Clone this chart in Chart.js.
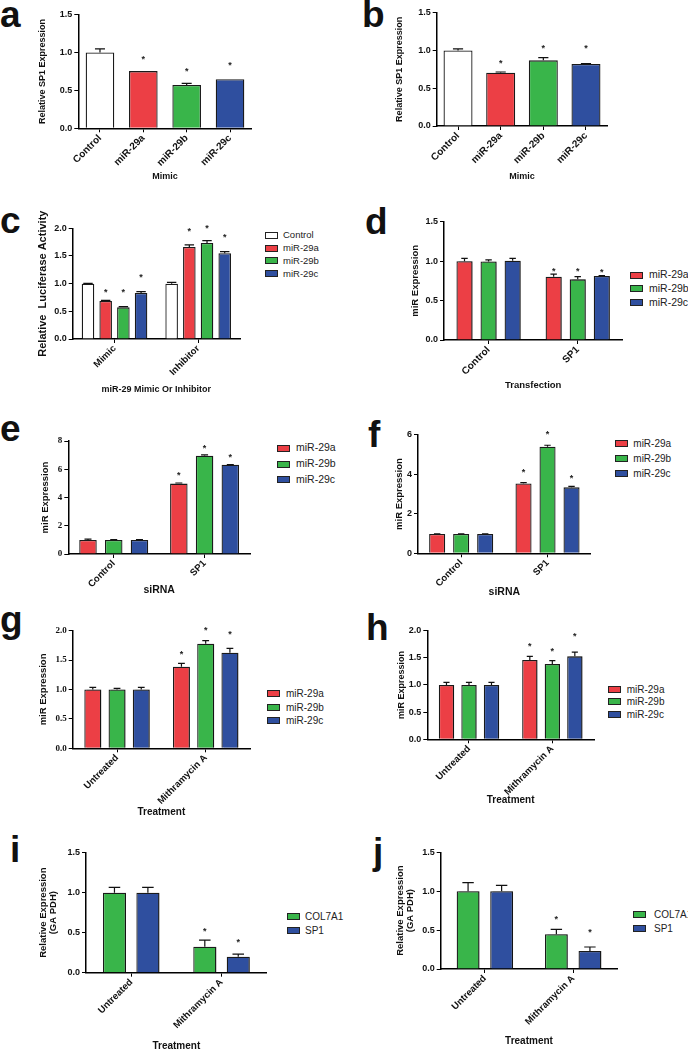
<!DOCTYPE html>
<html>
<head>
<meta charset="utf-8">
<script src="https://cdn.jsdelivr.net/npm/chart.js@4.4.1/dist/chart.umd.min.js"></script>
<style>
  body { margin: 0; background: #fff; width: 688px; height: 1050px; position: relative; overflow: hidden;
         font-family: "Liberation Sans", Arial, sans-serif; color: #111; }
  canvas, .letter, .sw, .lt { position: absolute; }
  .letter { font-weight: bold; font-size: 37px; line-height: 37px; }
  .sw { width: 13px; height: 7px; border: 1px solid #222; box-sizing: border-box; }
  .lt { white-space: nowrap; color: #222; }
</style>
</head>
<body>
<script>
const RED = '#ec3f45', GREEN = '#39b54a', BLUE = '#2f4f9f', WHITE = '#ffffff';

// a - SP1 after miR-29 mimics
const aCats = ['Control', 'miR-29a', 'miR-29b', 'miR-29c'];
const aVals = [1.0, 0.755, 0.572, 0.647];
const aErr = [0.05, 0, 0.022, 0];
const aStar = [null, 0.946, 0.783, 0.867];

// b
const bCats = ['Control', 'miR-29a', 'miR-29b', 'miR-29c'];
const bVals = [1.0, 0.706, 0.869, 0.82];
const bErr = [0.022, 0.009, 0.035, 0.007];
const bStar = [null, 0.86, 1.063, 1.063];

// c - luciferase
const cCats = ['Mimic', 'Inhibitor'];
const cControl = [1.0, 1.0], cControlErr = [0.006, 0.024], cControlStar = [null, null];
const c29a = [0.687, 1.663], c29aErr = [0.012, 0.036], c29aStar = [0.886, 1.988];
const c29b = [0.572, 1.735], c29bErr = [0.012, 0.042], c29bStar = [0.886, 2.048];
const c29c = [0.831, 1.548], c29cErr = [0.024, 0.03], c29cStar = [1.157, 1.88];

// d - SP1 transfection
const dCats = ['Control', 'SP1'];
const d29a = [1.0, 0.803], d29aErr = [0.035, 0.033], d29aStar = [null, 0.908];
const d29b = [0.995, 0.769], d29bErr = [0.022, 0.034], d29bStar = [null, 0.908];
const d29c = [1.005, 0.811], d29cErr = [0.03, 0.004], d29cStar = [null, 0.895];

// e - SP1 siRNA
const eCats = ['Control', 'SP1'];
const e29a = [1.0, 4.99], e29aErr = [0.05, 0.04], e29aStar = [null, 5.72];
const e29b = [1.0, 6.97], e29bErr = [0.02, 0.05], e29bStar = [null, 7.66];
const e29c = [1.0, 6.33], e29cErr = [0.02, 0.01], e29cStar = [null, 7.02];

// f
const fCats = ['Control', 'SP1'];
const f29a = [0.98, 3.54], f29aErr = [0.01, 0.04], f29aStar = [null, 4.22];
const f29b = [0.98, 5.40], f29bErr = [0.01, 0.07], f29bStar = [null, 6.16];
const f29c = [0.98, 3.34], f29cErr = [0.01, 0.05], f29cStar = [null, 3.92];

// g - mithramycin
const gCats = ['Untreated', 'Mithramycin A'];
const g29a = [1.0, 1.387], g29aErr = [0.036, 0.056], g29aStar = [null, 1.641];
const g29b = [1.0, 1.777], g29bErr = [0.019, 0.051], g29bStar = [null, 2.043];
const g29c = [1.0, 1.624], g29cErr = [0.036, 0.074], g29cStar = [null, 1.985];

// h
const hCats = ['Untreated', 'Mithramycin A'];
const h29a = [1.0, 1.457], h29aErr = [0.047, 0.068], h29aStar = [null, 1.764];
const h29b = [1.0, 1.384], h29bErr = [0.047, 0.061], h29bStar = [null, 1.672];
const h29c = [1.0, 1.525], h29cErr = [0.047, 0.079], h29cStar = [null, 1.935];

// i - COL7A1 / SP1
const iCats = ['Untreated', 'Mithramycin A'];
const iCol = [1.0, 0.325], iColErr = [0.067, 0.083], iColStar = [null, 0.554];
const iSp1 = [1.0, 0.2], iSp1Err = [0.067, 0.033], iSp1Star = [null, 0.417];

// j
const jCats = ['Untreated', 'Mithramycin A'];
const jCol = [1.0, 0.446], jColErr = [0.11, 0.064], jColStar = [null, 0.673];
const jSp1 = [1.0, 0.231], jSp1Err = [0.076, 0.052], jSp1Star = [null, 0.5];

const mir3 = (a, ae, as, b, be, bs, c, ce, cs) => [
  { label: 'miR-29a', data: a, err: ae, star: as, color: RED },
  { label: 'miR-29b', data: b, err: be, star: bs, color: GREEN },
  { label: 'miR-29c', data: c, err: ce, star: cs, color: BLUE },
];

const panels = [
  { letter: 'a', lx: 0, lb: 27, L: 78.3, T: 14.7, B: 128.3, R: 251.7, ytx: 42.5, xty: 176.7,
    yMax: 1.5, yStep: 0.5, dec: 1, cats: aCats,
    series: [{ label: 'SP1', data: aVals, err: aErr, star: aStar, color: [WHITE, RED, GREEN, BLUE] }],
    barPct: 0.66, catPct: 1, cap: 0.35, yTitle: 'Relative SP1 Expression', yts: 9,
    xTitle: 'Mimic', xts: 9, xtick: 10 },
  { letter: 'b', lx: 362, lb: 27, L: 436.7, T: 12.7, B: 126, R: 607.3, ytx: 399, xty: 176.7,
    yMax: 1.5, yStep: 0.5, dec: 1, cats: bCats,
    series: [{ label: 'SP1', data: bVals, err: bErr, star: bStar, color: [WHITE, RED, GREEN, BLUE] }],
    barPct: 0.68, catPct: 1, cap: 0.35, yTitle: 'Relative SP1 Expression', yts: 9,
    xTitle: 'Mimic', xts: 9, xtick: 10 },
  { letter: 'c', lx: 0, lb: 233, L: 72.7, T: 228.3, B: 339, R: 240, ytx: 43, xty: 390, padTop: 24,
    yMax: 2, yStep: 0.5, dec: 1, cats: cCats,
    series: [{ label: 'Control', data: cControl, err: cControlErr, star: cControlStar, color: WHITE },
             { label: 'miR-29a', data: c29a, err: c29aErr, star: c29aStar, color: RED },
             { label: 'miR-29b', data: c29b, err: c29bErr, star: c29bStar, color: GREEN },
             { label: 'miR-29c', data: c29c, err: c29cErr, star: c29cStar, color: BLUE }],
    barPct: 0.71, catPct: 0.846, cap: 0.75, yTitle: 'Relative  Luciferase Activity', yts: 11,
    xTitle: 'miR-29 Mimic Or Inhibitor', xts: 9, xtick: 9.5,
    legend: { x: 265, y: 235.3, pitch: 12.8, tx: 283, size: 9.5 } },
  { letter: 'd', lx: 365, lb: 234, L: 444, T: 221.7, B: 340, R: 622.3, ytx: 416, xty: 385,
    yMax: 1.5, yStep: 0.5, dec: 1, cats: dCats,
    series: mir3(d29a, d29aErr, d29aStar, d29b, d29bErr, d29bStar, d29c, d29cErr, d29cStar),
    barPct: 0.67, catPct: 0.81, cap: 0.4, yTitle: 'miR Expression', yts: 9.5,
    xTitle: 'Transfection', xts: 9.5, xtick: 10, shadow: true,
    legend: { x: 630, y: 275, pitch: 13.7, tx: 649, size: 10.5 } },
  { letter: 'e', lx: 0, lb: 441, L: 68.3, T: 441.1, B: 554, R: 250, ytx: 46, xty: 590,
    yMax: 8, yStep: 2, dec: 0, cats: eCats,
    series: mir3(e29a, e29aErr, e29aStar, e29b, e29bErr, e29bStar, e29c, e29cErr, e29cStar),
    barPct: 0.68, catPct: 0.85, cap: 0.4, yTitle: 'miR Expression', yts: 9.5,
    xTitle: 'siRNA', xts: 10.5, xtick: 9.5, serif: true,
    legend: { x: 276.7, y: 448.3, pitch: 15.8, tx: 296, size: 10.5 } },
  { letter: 'f', lx: 368, lb: 447, L: 418, T: 434.8, B: 553.3, R: 590.7, ytx: 400, xty: 592.3,
    yMax: 6, yStep: 2, dec: 0, cats: fCats,
    series: mir3(f29a, f29aErr, f29aStar, f29b, f29bErr, f29bStar, f29c, f29cErr, f29cStar),
    barPct: 0.67, catPct: 0.834, cap: 0.4, yTitle: 'miR Expression', yts: 9.5,
    xTitle: 'siRNA', xts: 10.5, xtick: 9.5,
    legend: { x: 614.7, y: 443.3, pitch: 15.3, tx: 633.3, size: 10 } },
  { letter: 'g', lx: 0, lb: 632, L: 72.7, T: 630.6, B: 748.3, R: 250, ytx: 44, xty: 812.7,
    yMax: 2, yStep: 0.5, dec: 1, cats: gCats,
    series: mir3(g29a, g29aErr, g29aStar, g29b, g29bErr, g29bStar, g29c, g29cErr, g29cStar),
    barPct: 0.70, catPct: 0.82, cap: 0.4, yTitle: 'miR Expression', yts: 9.5,
    xTitle: 'Treatment', xts: 10, xtick: 9.5, serif: true, shadow: true,
    legend: { x: 266.7, y: 693.3, pitch: 13.8, tx: 286, size: 10 } },
  { letter: 'h', lx: 366, lb: 640, L: 427.3, T: 630.5, B: 739.3, R: 594, ytx: 401, xty: 800,
    yMax: 2, yStep: 0.5, dec: 1, cats: hCats,
    series: mir3(h29a, h29aErr, h29aStar, h29b, h29bErr, h29bStar, h29c, h29cErr, h29cStar),
    barPct: 0.68, catPct: 0.81, cap: 0.4, yTitle: 'miR Expression', yts: 9,
    xTitle: 'Treatment', xts: 10, xtick: 9.5, shadow: true,
    legend: { x: 608, y: 689, pitch: 12.7, tx: 626.7, size: 10 } },
  { letter: 'i', lx: 10, lb: 862, L: 86, T: 852.7, B: 972.7, R: 266.7, ytx: 44, xty: 1046,
    yMax: 1.5, yStep: 0.5, dec: 1, cats: iCats,
    series: [{ label: 'COL7A1', data: iCol, err: iColErr, star: iColStar, color: GREEN },
             { label: 'SP1', data: iSp1, err: iSp1Err, star: iSp1Star, color: BLUE }],
    barPct: 0.69, catPct: 0.74, cap: 0.5, yTitle: ['Relative Expression', '(GA PDH)'], yts: 9.5, ylh: 1.0,
    xTitle: 'Treatment', xts: 10, xtick: 9.5, shadow: true,
    legend: { x: 286.7, y: 916.7, pitch: 14, tx: 305, size: 10 } },
  { letter: 'j', lx: 373, lb: 864, L: 440.7, T: 852.3, B: 969, R: 617.3, ytx: 400, xty: 1041.7,
    yMax: 1.5, yStep: 0.5, dec: 1, cats: jCats,
    series: [{ label: 'COL7A1', data: jCol, err: jColErr, star: jColStar, color: GREEN },
             { label: 'SP1', data: jSp1, err: jSp1Err, star: jSp1Star, color: BLUE }],
    barPct: 0.68, catPct: 0.76, cap: 0.5, yTitle: ['Relative Expression', '(GA PDH)'], yts: 9.5, ylh: 1.05,
    xTitle: 'Treatment', xts: 10, xtick: 9.5, shadow: true,
    legend: { x: 632.7, y: 914, pitch: 14.3, tx: 654, size: 10 } },
];

Chart.defaults.font.family = '"Liberation Sans", Arial, sans-serif';
Chart.defaults.color = '#111';

// error bars (upper only) and significance asterisks
const errorBars = {
  id: 'errorBars',
  afterDatasetsDraw(chart, args, opts) {
    const ctx = chart.ctx, ys = chart.scales.y;
    chart.data.datasets.forEach((ds, di) => {
      chart.getDatasetMeta(di).data.forEach((bar, i) => {
        const v = ds.data[i], e = ds.err ? ds.err[i] : 0;
        ctx.save();
        if (e > 0) {
          const yt = ys.getPixelForValue(v + e), hw = bar.width * opts.cap / 2;
          ctx.strokeStyle = '#111';
          ctx.lineWidth = 1.2;
          ctx.beginPath();
          ctx.moveTo(bar.x, bar.y);
          ctx.lineTo(bar.x, yt);
          ctx.moveTo(bar.x - hw, yt);
          ctx.lineTo(bar.x + hw, yt);
          ctx.stroke();
        }
        const s = ds.star ? ds.star[i] : null;
        if (s != null) {
          const sz = opts.starSize;
          ctx.fillStyle = '#222';
          ctx.font = 'bold ' + sz + 'px "Liberation Sans", Arial, sans-serif';
          ctx.textAlign = 'center';
          ctx.textBaseline = 'alphabetic';
          ctx.fillText('*', bar.x, ys.getPixelForValue(s) + sz * 0.58);
        }
        ctx.restore();
      });
    });
  }
};

// grey drop edge on the right of bars
const barShadow = {
  id: 'barShadow',
  beforeDatasetDraw(chart, args, opts) {
    const ctx = chart.ctx;
    ctx.save();
    if (opts.on) {
      ctx.shadowColor = 'rgba(0,0,0,0.3)';
      ctx.shadowOffsetX = 2.5;
      ctx.shadowOffsetY = 0;
      ctx.shadowBlur = 0;
    }
  },
  afterDatasetDraw(chart) {
    chart.ctx.restore();
  }
};

function addDiv(cls, left, top, text, style) {
  const d = document.createElement('div');
  d.className = cls;
  d.style.left = left + 'px';
  d.style.top = top + 'px';
  if (text) d.textContent = text;
  Object.assign(d.style, style || {});
  document.body.appendChild(d);
  return d;
}

function makePanel(p) {
  const padTop = p.padTop || 12, padRight = 6;
  const ylhF = p.ylh || 1.2;
  const cLeft = Math.round(p.ytx - p.yts * ylhF / 2);
  const yw = p.L - cLeft;
  const cTop = Math.round(p.T - padTop);
  const topPad = p.T - cTop;
  const xh = p.xty + p.xts * 1.2 / 2 - p.B;
  const W = Math.ceil(p.R - cLeft + padRight);
  const H = Math.ceil(p.B + xh - cTop);
  const cv = document.createElement('canvas');
  cv.width = W; cv.height = H;
  cv.style.left = cLeft + 'px';
  cv.style.top = cTop + 'px';
  document.body.appendChild(cv);
  const tickFamily = p.serif ? '"Liberation Serif", "Times New Roman", serif' : '"Liberation Sans", Arial, sans-serif';

  new Chart(cv.getContext('2d'), {
    type: 'bar',
    data: {
      labels: p.cats,
      datasets: p.series.map(s => ({
        label: s.label,
        data: s.data,
        err: s.err,
        star: s.star,
        backgroundColor: s.color,
        borderColor: '#1a1a1a',
        borderWidth: 1.3,
        barPercentage: p.barPct,
        categoryPercentage: p.catPct,
      })),
    },
    options: {
      responsive: false,
      devicePixelRatio: 1,
      animation: false,
      layout: { padding: { left: 0, top: topPad, right: W - (p.R - cLeft), bottom: H - (p.B - cTop) - xh } },
      plugins: {
        legend: { display: false },
        tooltip: { enabled: false },
        errorBars: { cap: p.cap, starSize: 9 },
        barShadow: { on: !!p.shadow },
      },
      scales: {
        x: {
          offset: true,
          afterFit: sc => { sc.height = xh; },
          grid: { offset: false, drawOnChartArea: false, drawTicks: true, tickLength: 4, color: '#000', lineWidth: 1 },
          border: { display: true, color: '#000', width: 1.5 },
          ticks: { autoSkip: false, minRotation: 45, maxRotation: 45, padding: 0, color: '#111',
                   font: { size: p.xtick, weight: 'bold' } },
          title: { display: true, text: p.xTitle, padding: 0, color: '#111',
                   font: { size: p.xts, weight: 'bold' } },
        },
        y: {
          min: 0,
          max: p.yMax,
          afterFit: sc => { sc.width = yw; },
          grid: { drawOnChartArea: false, drawTicks: true, tickLength: 4, color: '#000', lineWidth: 1 },
          border: { display: true, color: '#000', width: 1.5 },
          ticks: { stepSize: p.yStep, padding: 2, color: '#111',
                   callback: v => Number(v).toFixed(p.dec),
                   font: { size: 9, weight: 'bold', family: tickFamily } },
          title: { display: true, text: p.yTitle, padding: 0, color: '#111',
                   font: { size: p.yts, weight: 'bold', lineHeight: ylhF } },
        },
      },
    },
    plugins: [errorBars, barShadow],
  });

  // panel letter
  addDiv('letter', p.lx, p.lb - 31.3, p.letter);

  // legend
  if (p.legend) {
    const lg = p.legend;
    p.series.forEach((s, k) => {
      const cy = lg.y + k * lg.pitch;
      addDiv('sw', lg.x, cy - 3.5, '', { background: s.color });
      const lh = lg.size * 1.3;
      addDiv('lt', lg.tx, cy - lh / 2, s.label, { fontSize: lg.size + 'px', lineHeight: lh + 'px' });
    });
  }
}

panels.forEach(makePanel);
</script>
</body>
</html>
